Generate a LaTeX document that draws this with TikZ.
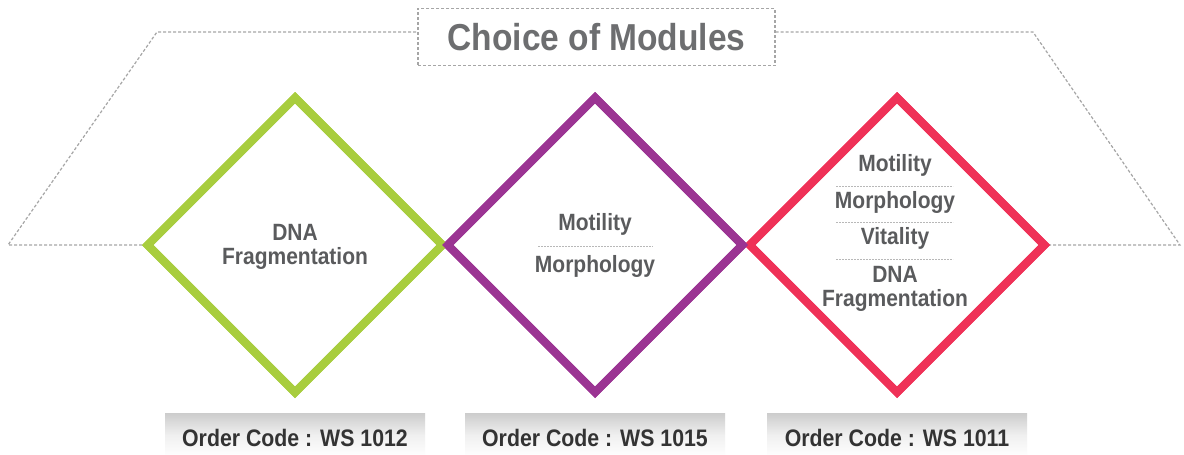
\documentclass[tikz,border=0pt]{standalone}
\usepackage{fontspec}
\usepackage{graphicx}
\setmainfont{Liberation Sans}
\usetikzlibrary{shapes.geometric}
\definecolor{cgreen}{HTML}{A8CD3E}
\definecolor{cpurple}{HTML}{9B3493}
\definecolor{cred}{HTML}{EF3157}
\definecolor{ctext}{HTML}{5A5B5D}
\definecolor{ctitle}{HTML}{6D6E70}
\definecolor{cdash}{HTML}{A6A6A6}
\definecolor{ccode}{HTML}{333333}
\newcommand{\vst}[1]{\scalebox{1}[1.12]{#1}}
\tikzset{
  outline/.style={draw=cdash, line width=1.2pt, dash pattern=on 3pt off 2pt},
  sep/.style={draw=cdash!80, line width=0.8pt, dash pattern=on 2pt off 1pt},
  dia/.style={shape=diamond, aspect=1, minimum width=298pt, minimum height=298pt, inner sep=0pt, line width=8pt, fill=white, miter limit=10},
  lbl/.style={text=ctext, font=\fontsize{21}{24}\selectfont\bfseries, inner sep=0pt, align=center},
  codebox/.style={minimum width=260pt, minimum height=44pt, inner sep=0pt, top color=black!20, bottom color=white, middle color=black!6, draw=none},
  codetxt/.style={text=ccode, font=\fontsize{21.3}{24}\selectfont\bfseries, inner sep=0pt},
}
\begin{document}
\begin{tikzpicture}[x=1pt,y=-1pt]
\useasboundingbox[fill=white] (0,0) rectangle (1184,455);
% title
\node[outline, minimum width=357pt, minimum height=57pt, inner sep=0pt, text=ctitle,
  font=\fontsize{33.5}{38}\selectfont\bfseries] (title) at (596.5,37) {\vst{Choice of Modules}};
\coordinate (tl) at (157,32);
\coordinate (bl) at (8,245);
\coordinate (tr) at (1033,32);
\coordinate (br) at (1180,245);
% diamonds
\node[dia, draw=cgreen] (g) at (295,245) {};
\node[dia, draw=cred] (r) at (897,245) {};
\node[dia, draw=cpurple] (p) at (595,245) {};
\draw[outline] (g.west) -- (bl) -- (tl) -- (tl -| title.west);
\draw[outline] (tr -| title.east) -- (tr) -- (br) -- (r.east);
% redraw diamond tips over dashed lines
\node[dia, draw=cgreen, fill=none] (g') at (295,245) {};
\node[dia, draw=cred, fill=none] (r') at (897,245) {};
\node[dia, draw=cpurple, fill=none] (p') at (595,245) {};
% green text
\node[lbl] (g1) at (295,232) {\vst{DNA}};
\node[lbl] (g2) at (295,258) {\vst{Fragmentation}};
% purple text
\node[lbl] (p1) at (595,224) {\vst{Motility}};
\node[lbl] (p2) at (595,266) {\vst{Morphology}};
\coordinate (ps1) at (538,246);
\coordinate (ps2) at (653,246);
\draw[sep] (ps1) -- (ps2);
% red text
\node[lbl] (r1) at (895,165) {\vst{Motility}};
\node[lbl] (r2) at (895,202) {\vst{Morphology}};
\node[lbl] (r3) at (895,238) {\vst{Vitality}};
\node[lbl] (r4) at (895,274) {\vst{DNA}};
\node[lbl] (r5) at (895,300) {\vst{Fragmentation}};
\coordinate (rs1a) at (836,186); \coordinate (rs1b) at (953,186);
\coordinate (rs2a) at (836,222); \coordinate (rs2b) at (953,222);
\coordinate (rs3a) at (836,259); \coordinate (rs3b) at (953,259);
\draw[sep] (rs1a) -- (rs1b);
\draw[sep] (rs2a) -- (rs2b);
\draw[sep] (rs3a) -- (rs3b);
% order codes
\node[codebox] (c1) at (295,435) {};
\node[codebox] (c2) at (595,435) {};
\node[codebox] (c3) at (897,435) {};
\node[codetxt] (t1) at (295,438) {\vst{Order Code : WS 1012}};
\node[codetxt] (t2) at (595,438) {\vst{Order Code : WS 1015}};
\node[codetxt] (t3) at (897,438) {\vst{Order Code : WS 1011}};
\end{tikzpicture}
\end{document}
